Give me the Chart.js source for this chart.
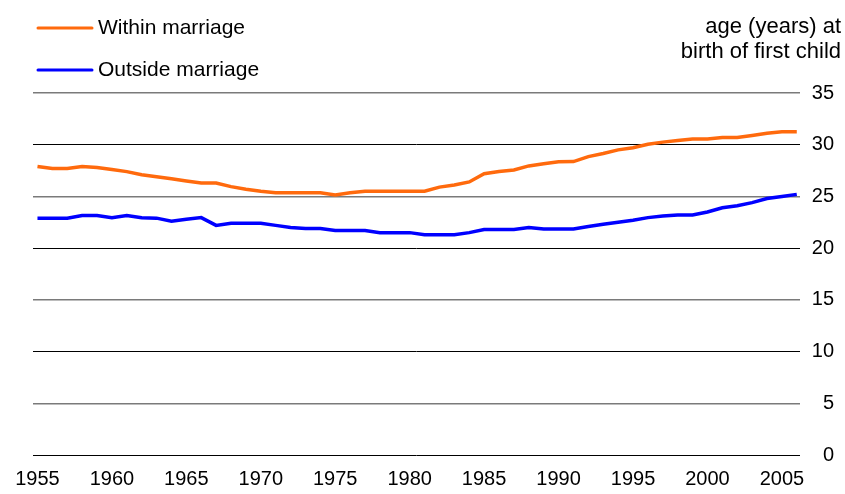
<!DOCTYPE html>
<html>
<head>
<meta charset="utf-8">
<script src="https://cdn.jsdelivr.net/npm/chart.js@4"></script>
<style>
  html, body { margin: 0; padding: 0; background: #fff; }
  #wrap { width: 845px; height: 494px; }
</style>
</head>
<body>
<div id="wrap"><canvas id="ageChart" width="845" height="494"></canvas></div>
<script>
// age at birth of first child, 1955-2006
const years = [];
for (let y = 1955; y <= 2006; y++) years.push(y);

const withinMarriage = [
  27.9, 27.7, 27.7, 27.9, 27.8, 27.6, 27.4, 27.1, 26.9, 26.7,
  26.5, 26.3, 26.3, 25.95, 25.7, 25.5, 25.35, 25.35, 25.35, 25.35,
  25.15, 25.35, 25.5, 25.5, 25.5, 25.5, 25.5, 25.9, 26.1, 26.4,
  27.2, 27.4, 27.55, 27.95, 28.15, 28.35, 28.37, 28.85, 29.15, 29.5,
  29.7, 30.05, 30.25, 30.4, 30.55, 30.55, 30.7, 30.7, 30.9, 31.1,
  31.25, 31.25
];
const outsideMarriage = [
  22.9, 22.9, 22.9, 23.15, 23.15, 22.95, 23.15, 22.95, 22.9, 22.6,
  22.8, 22.95, 22.2, 22.4, 22.4, 22.4, 22.2, 22.0, 21.9, 21.9,
  21.7, 21.7, 21.7, 21.5, 21.5, 21.5, 21.3, 21.3, 21.3, 21.5,
  21.8, 21.8, 21.8, 22.0, 21.85, 21.85, 21.85, 22.1, 22.3, 22.5,
  22.7, 22.95, 23.1, 23.2, 23.2, 23.5, 23.9, 24.1, 24.4, 24.8,
  25.0, 25.2
];
const xTicks = [1955, 1960, 1965, 1970, 1975, 1980, 1985, 1990, 1995, 2000, 2005];
const seriesNames = ['Within marriage', 'Outside marriage'];
const titleLines = ['age (years) at', 'birth of first child'];

const FONT = '"Liberation Sans", Arial, sans-serif';
const COLORS = { orange: '#FF6A0D', blue: '#0000FF' };

// legend top-left + unit title top-right
const headerPlugin = {
  id: 'header',
  afterDraw(chart) {
    const ctx = chart.ctx;
    ctx.save();
    ctx.font = '21px ' + FONT;
    ctx.fillStyle = '#000';
    ctx.textBaseline = 'middle';
    const rows = [
      { y: 28, color: COLORS.orange, text: seriesNames[0] },
      { y: 70, color: COLORS.blue, text: seriesNames[1] }
    ];
    rows.forEach(r => {
      ctx.strokeStyle = r.color;
      ctx.lineWidth = 3;
      ctx.lineCap = 'round';
      ctx.beginPath();
      ctx.moveTo(38, r.y);
      ctx.lineTo(92, r.y);
      ctx.stroke();
      ctx.textAlign = 'left';
      ctx.fillText(r.text, 98, r.y);
    });
    ctx.font = '22px ' + FONT;
    ctx.textAlign = 'right';
    ctx.fillText(titleLines[0], 841, 27);
    ctx.fillText(titleLines[1], 841, 52);
    ctx.restore();
  }
};

const ctx = document.getElementById('ageChart');
new Chart(ctx.getContext('2d'), {
  type: 'line',
  data: {
    datasets: [
      {
        label: seriesNames[0],
        data: years.map((y, i) => ({ x: y, y: withinMarriage[i] })),
        borderColor: COLORS.orange, borderWidth: 3.5, pointRadius: 0, tension: 0
      },
      {
        label: seriesNames[1],
        data: years.map((y, i) => ({ x: y, y: outsideMarriage[i] })),
        borderColor: COLORS.blue, borderWidth: 3.5, pointRadius: 0, tension: 0
      }
    ]
  },
  options: {
    responsive: false,
    animation: false,
    layout: { padding: { top: 93, left: 33, right: 11, bottom: -1 } },
    plugins: { legend: { display: false }, tooltip: { enabled: false } },
    scales: {
      x: {
        type: 'linear',
        min: 1954.7,
        max: 2006.2,
        afterBuildTicks: scale => { scale.ticks = xTicks.map(v => ({ value: v })); },
        grid: { display: false },
        border: { display: false },
        ticks: {
          color: '#000', padding: 4, maxRotation: 0, autoSkip: false,
          font: { family: FONT, size: 20 },
          callback: v => String(v)
        }
      },
      y: {
        position: 'right',
        min: 0,
        max: 35,
        border: { display: false },
        grid: {
          drawTicks: false,
          color: c => (c.tick && c.tick.value % 10 === 0) ? '#000' : '#7a7a7a',
          lineWidth: c => (c.tick && c.tick.value % 10 === 0) ? 1 : 1.5
        },
        ticks: {
          stepSize: 5, color: '#000', padding: 6, crossAlign: 'far',
          font: { family: FONT, size: 20 }
        }
      }
    }
  },
  plugins: [headerPlugin]
});
</script>
</body>
</html>
